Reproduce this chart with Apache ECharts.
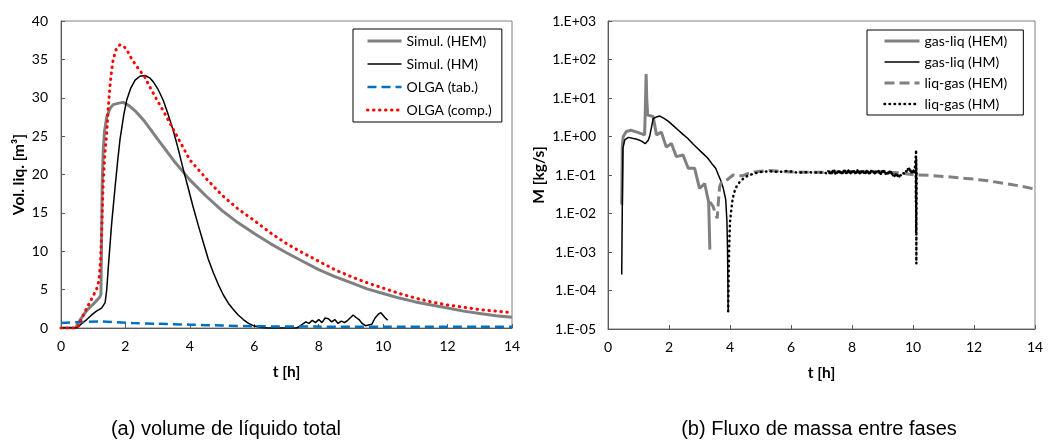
<!DOCTYPE html>
<html>
<head>
<meta charset="utf-8">
<script src="https://cdn.jsdelivr.net/npm/echarts@6/dist/echarts.min.js"></script>
<style>
html,body{margin:0;padding:0;background:#fff;}
#chart{width:1050px;height:448px;}
</style>
</head>
<body>
<div id="chart"></div>
<script>
// ---------- (a) volume de líquido total ----------
const simulHEM = [[0,0],[0.45,0],[0.6,1.1],[0.8,2.3],[1.0,3.1],[1.2,4.0],[1.24,4.4],[1.26,12],[1.28,19],[1.31,23],[1.35,25.6],[1.42,27.5],[1.52,28.6],[1.62,29.1],[1.8,29.3],[1.93,29.4],[2.1,29.0],[2.3,28.3],[2.6,26.9],[3.0,24.6],[3.5,21.8],[4.0,19.3],[4.5,17.2],[5.0,15.3],[5.5,13.7],[6.0,12.3],[6.5,11.0],[7.0,9.8],[7.5,8.7],[8.0,7.6],[8.5,6.7],[9.0,5.9],[9.5,5.1],[10.0,4.5],[10.5,3.9],[11.0,3.4],[11.5,3.0],[12.0,2.6],[12.5,2.2],[13.0,1.9],[13.5,1.6],[14.0,1.4]];
const simulHM = [[0,0],[0.49,0],[0.65,0.6],[0.8,1.1],[0.95,1.7],[1.1,2.2],[1.26,2.6],[1.37,3.3],[1.42,5],[1.47,8],[1.57,13.5],[1.68,18.4],[1.76,21.8],[1.83,24.5],[1.95,27.8],[2.04,29.7],[2.17,31.3],[2.3,32.3],[2.45,32.8],[2.61,32.9],[2.75,32.6],[2.86,32.1],[3.0,31.2],[3.17,29.7],[3.32,27.9],[3.48,25.8],[3.64,23.3],[3.8,20.6],[3.95,18.2],[4.1,15.8],[4.26,13.4],[4.42,11.1],[4.57,9.0],[4.73,7.2],[4.89,5.6],[5.04,4.3],[5.2,3.2],[5.35,2.4],[5.5,1.7],[5.66,1.1],[5.82,0.6],[5.97,0.3],[6.2,0.1],[6.4,0],[7.3,0],[7.4,0.2],[7.5,0.5],[7.6,0.8],[7.7,0.6],[7.8,1.0],[7.9,0.7],[8.0,1.1],[8.1,0.7],[8.2,1.3],[8.3,1.2],[8.4,0.8],[8.5,1.1],[8.6,0.6],[8.7,0.9],[8.8,0.7],[8.9,1.0],[9.0,1.4],[9.07,1.7],[9.15,1.4],[9.25,1.1],[9.35,0.6],[9.45,0.3],[9.55,0.4],[9.65,0.5],[9.75,1.3],[9.85,1.8],[9.93,2.0],[9.98,1.9],[10.05,1.4],[10.1,1.2],[10.14,1.0]];
const olgaTab = [[0,0.65],[0.5,0.75],[1.2,0.85],[2.2,0.65],[3.0,0.55],[4.0,0.43],[5.0,0.32],[6.0,0.23],[8.0,0.18],[10.0,0.16],[14.0,0.15]];
const olgaComp = [[0,0],[0.5,0],[0.65,1.3],[0.8,2.6],[0.95,3.8],[1.1,5.0],[1.18,6.2],[1.23,9],[1.27,13.5],[1.31,18.9],[1.36,22.5],[1.42,25.4],[1.47,28.8],[1.52,31.5],[1.57,33.5],[1.62,35.0],[1.72,36.4],[1.83,36.9],[1.95,36.7],[2.05,36.2],[2.2,35.0],[2.4,33.8],[2.6,32.7],[2.86,30.6],[3.05,29.2],[3.28,27.5],[3.6,25.0],[4.0,21.9],[4.5,19.5],[5.0,17.3],[5.5,15.5],[6.0,14.0],[6.5,12.4],[7.0,11.0],[7.5,9.8],[8.0,8.7],[8.5,7.6],[9.0,6.7],[9.5,5.9],[10.0,5.2],[10.5,4.5],[11.0,3.9],[11.5,3.4],[12.0,3.0],[12.5,2.7],[13.0,2.4],[13.5,2.2],[14.0,2.0]];

// ---------- (b) Fluxo de massa entre fases ----------
const gasLiqHEM = [[0.45,0.017],[0.47,0.6],[0.5,1.0],[0.6,1.35],[0.75,1.45],[0.95,1.3],[1.2,1.1],[1.23,8],[1.25,42],[1.27,10],[1.3,3.6],[1.48,3.3],[1.59,1.1],[1.75,1.3],[1.91,0.53],[2.08,0.66],[2.24,0.3],[2.46,0.33],[2.63,0.15],[2.84,0.15],[3.0,0.045],[3.17,0.06],[3.25,0.03],[3.3,0.02],[3.34,0.00115]];
const gasLiqHM = [[0.45,0.00026],[0.47,0.02],[0.49,0.5],[0.55,0.82],[0.67,0.95],[0.8,0.9],[0.95,0.85],[1.1,0.76],[1.22,0.65],[1.26,0.6],[1.32,0.8],[1.37,1.05],[1.43,1.8],[1.48,2.9],[1.58,3.2],[1.7,3.4],[1.85,2.9],[1.97,2.5],[2.13,1.95],[2.29,1.5],[2.45,1.15],[2.61,0.9],[2.78,0.65],[2.94,0.49],[3.1,0.37],[3.26,0.28],[3.4,0.2],[3.53,0.15],[3.62,0.1],[3.69,0.074],[3.78,0.045],[3.86,0.023],[3.9,0.006],[3.92,0.001],[3.94,0.000029]];
const liqGasHEM = [[3.34,0.02],[3.45,0.015],[3.52,0.01],[3.58,0.0075],[3.62,0.02],[3.66,0.05],[3.72,0.065],[3.85,0.07],[3.95,0.08],[4.1,0.1],[4.25,0.095],[4.4,0.095],[4.6,0.11],[4.8,0.12],[5.0,0.125],[5.3,0.13],[5.6,0.125],[6.0,0.12],[6.5,0.118],[7.0,0.118],[7.5,0.12],[8.0,0.122],[8.5,0.12],[9.0,0.12],[9.5,0.115],[10.1,0.1],[10.5,0.098],[11.0,0.092],[11.5,0.085],[12.0,0.078],[12.5,0.07],[13.0,0.06],[13.5,0.052],[14.0,0.043]];
const liqGasHM = [[3.94,0.000029],[3.95,0.0001],[3.96,0.0005],[3.98,0.002],[4.0,0.006],[4.04,0.012],[4.08,0.022],[4.13,0.034],[4.2,0.048],[4.3,0.063],[4.45,0.083],[4.6,0.097],[4.8,0.11],[5.0,0.12],[5.3,0.125],[5.6,0.12],[5.9,0.128],[6.2,0.115],[6.5,0.118],[6.8,0.116],[7.1,0.115],
[7.200,0.108],[7.225,0.130],[7.250,0.106],[7.275,0.128],[7.300,0.110],[7.325,0.132],[7.350,0.107],[7.375,0.129],[7.400,0.109],[7.425,0.131],[7.450,0.106],[7.475,0.128],[7.500,0.110],[7.525,0.133],[7.550,0.108],[7.575,0.130],[7.600,0.107],[7.625,0.129],[7.650,0.110],[7.675,0.132],[7.700,0.108],[7.725,0.131],[7.750,0.109],[7.775,0.134],[7.800,0.107],[7.825,0.130],[7.850,0.110],[7.875,0.133],[7.900,0.108],[7.925,0.131],[7.950,0.109],[7.975,0.134],[8.000,0.107],[8.025,0.130],[8.050,0.110],[8.075,0.132],[8.100,0.106],[8.125,0.129],[8.150,0.109],[8.175,0.133],[8.200,0.108],[8.225,0.131],[8.250,0.110],[8.275,0.134],[8.300,0.107],[8.325,0.130],[8.350,0.109],[8.375,0.132],[8.400,0.108],[8.425,0.129],[8.450,0.110],[8.475,0.133],[8.500,0.106],[8.525,0.130],[8.550,0.109],[8.575,0.132],[8.600,0.107],[8.625,0.129],[8.650,0.110],[8.675,0.131],[8.700,0.108],[8.725,0.133],[8.750,0.109],[8.775,0.130],[8.800,0.107],[8.825,0.128],[8.850,0.110],[8.875,0.131],[8.900,0.108],[8.925,0.129],[8.950,0.106],[8.975,0.130],[9.000,0.107],[9.025,0.128],[9.050,0.109],[9.075,0.129],[9.100,0.106],[9.125,0.127],[9.150,0.108],[9.175,0.126],[9.200,0.104],[9.225,0.124],[9.250,0.103],[9.275,0.121],[9.300,0.100],[9.325,0.116],[9.350,0.094],[9.375,0.110],[9.400,0.089],[9.425,0.106],[9.450,0.087],[9.475,0.104],[9.500,0.088],[9.525,0.105],[9.550,0.090],[9.575,0.108],[9.600,0.095],[9.625,0.114],[9.650,0.102],[9.675,0.122],[9.700,0.110],[9.725,0.130],[9.750,0.117],[9.775,0.140],[9.800,0.122],[9.825,0.148],[9.850,0.125],[9.875,0.146],[9.900,0.118],[9.925,0.140],[9.950,0.112],[9.975,0.135],[10.000,0.108],[10.025,0.132],[10.050,0.110],
[10.08,0.11],[10.09,0.3],[10.095,0.02],[10.1,0.45],[10.103,0.003],[10.106,0.25],[10.11,0.0005],[10.113,0.15],[10.116,0.01],[10.12,0.12]];

const xTicks = [0,2,4,6,8,10,12,14];
const logTickLabels = ['1.E-05','1.E-04','1.E-03','1.E-02','1.E-01','1.E+00','1.E+01','1.E+02','1.E+03'];
const captionA = '(a) volume de líquido total';
const captionB = '(b) Fluxo de massa entre fases';

const FONT = 'Lato';
const FS = 14;
const axisLineStyle = {color:'#595959', width:1};
function labelStyle(){ return {fontFamily:FONT, fontSize:FS, color:'#000'}; }
function nameStyle(){ return {fontFamily:FONT, fontSize:15.5, fontWeight:'bold', color:'#000'}; }

function xAxis(gi){
  return {
    type:'value', gridIndex:gi, min:xTicks[0], max:xTicks[xTicks.length-1], interval:2,
    name:'t [h]', nameLocation:'middle', nameGap:36, nameTextStyle:nameStyle(),
    axisLine:{show:true, lineStyle:axisLineStyle},
    axisTick:{show:true, inside:true, length:4, lineStyle:axisLineStyle},
    axisLabel:Object.assign({margin:11}, labelStyle()),
    splitLine:{show:false}
  };
}

const chart = echarts.init(document.getElementById('chart'), null, {renderer:'canvas'});
const legendCommon = {
  orient:'vertical', borderColor:'#000', borderWidth:1, backgroundColor:'#fff',
  textStyle:{fontFamily:FONT, fontSize:FS, color:'#000'},
  lineStyle:{width:'inherit'},
  itemStyle:{opacity:0}
};
const option = {
  animation:false,
  backgroundColor:'#fff',
  grid:[
    {left:61, top:21, width:451, height:307, show:true, borderColor:'#808080', borderWidth:1, containLabel:false, outerBoundsMode:'none'},
    {left:608, top:21, width:427, height:308, show:true, borderColor:'#808080', borderWidth:1, containLabel:false, outerBoundsMode:'none'}
  ],
  xAxis:[xAxis(0), xAxis(1)],
  yAxis:[
    {type:'value', gridIndex:0, min:0, max:40, interval:5,
     name:'Vol. liq. [m³]', nameLocation:'middle', nameGap:34, nameTextStyle:nameStyle(),
     axisLine:{show:true, lineStyle:axisLineStyle},
     axisTick:{show:true, inside:true, length:4, lineStyle:axisLineStyle},
     axisLabel:Object.assign({margin:13}, labelStyle()),
     splitLine:{show:false}},
    {type:'log', gridIndex:1, min:1e-5, max:1e3, logBase:10, splitNumber:8,
     name:'M [kg/s]', nameLocation:'middle', nameGap:61, nameTextStyle:nameStyle(),
     axisLine:{show:true, lineStyle:axisLineStyle},
     axisTick:{show:true, inside:true, length:4, lineStyle:axisLineStyle},
     axisLabel:Object.assign({margin:12, formatter:function(v){
        const e = Math.round(Math.log10(v));
        return logTickLabels[e+5] || '';
     }}, labelStyle()),
     minorTick:{show:false},
     splitLine:{show:false}}
  ],
  legend:[
    Object.assign({}, legendCommon, {left:353, top:29, itemWidth:34, itemHeight:14, itemGap:9,
     padding:[5,10,5,13],
     data:[
       {name:'Simul. (HEM)'},
       {name:'Simul. (HM)'},
       {name:'OLGA (tab.)'},
       {name:'OLGA (comp.)', lineStyle:{cap:'round'}}
     ]}),
    Object.assign({}, legendCommon, {left:867, top:30, itemWidth:35, itemHeight:14, itemGap:7,
     padding:[4,16,4,16],
     data:[
       {name:'gas-liq (HEM)'},
       {name:'gas-liq (HM)'},
       {name:'liq-gas (HEM)'},
       {name:'liq-gas (HM)', lineStyle:{cap:'round'}}
     ]})
  ],
  series:[
    {name:'Simul. (HEM)', type:'line', xAxisIndex:0, yAxisIndex:0, data:simulHEM, symbol:'none', showSymbol:false,
     lineStyle:{color:'#808080', width:3}, itemStyle:{color:'#808080'}},
    {name:'Simul. (HM)', type:'line', xAxisIndex:0, yAxisIndex:0, data:simulHM, symbol:'none', showSymbol:false,
     lineStyle:{color:'#000', width:1.5}, itemStyle:{color:'#000'}},
    {name:'OLGA (tab.)', type:'line', xAxisIndex:0, yAxisIndex:0, data:olgaTab, symbol:'none', showSymbol:false, smooth:0.3,
     lineStyle:{color:'#0070C0', width:2.5, type:[9,5]}, itemStyle:{color:'#0070C0'}},
    {name:'OLGA (comp.)', type:'line', xAxisIndex:0, yAxisIndex:0, data:olgaComp, symbol:'none', showSymbol:false,
     lineStyle:{color:'#FF0000', width:3, type:[0.5,5.5], cap:'round'}, itemStyle:{color:'#FF0000'}},

    {name:'gas-liq (HEM)', type:'line', xAxisIndex:1, yAxisIndex:1, data:gasLiqHEM, symbol:'none', showSymbol:false,
     lineStyle:{color:'#808080', width:3}, itemStyle:{color:'#808080'}},
    {name:'gas-liq (HM)', type:'line', xAxisIndex:1, yAxisIndex:1, data:gasLiqHM, symbol:'none', showSymbol:false,
     lineStyle:{color:'#000', width:1.5}, itemStyle:{color:'#000'}},
    {name:'liq-gas (HEM)', type:'line', xAxisIndex:1, yAxisIndex:1, data:liqGasHEM, symbol:'none', showSymbol:false,
     lineStyle:{color:'#808080', width:3, type:[10,5]}, itemStyle:{color:'#808080'}},
    {name:'liq-gas (HM)', type:'line', xAxisIndex:1, yAxisIndex:1, data:liqGasHM, symbol:'none', showSymbol:false,
     lineStyle:{color:'#000', width:2.5, type:[0.5,4.5], cap:'round'}, itemStyle:{color:'#000'}}
  ],
  graphic:[
    {type:'text', x:226, y:429, style:{text:captionA, fill:'#000', fontFamily:'Liberation Sans', fontSize:20, align:'center', verticalAlign:'middle'}},
    {type:'text', x:819, y:429, style:{text:captionB, fill:'#000', fontFamily:'Liberation Sans', fontSize:20, align:'center', verticalAlign:'middle'}}
  ]
};
chart.setOption(option);
</script>
</body>
</html>
